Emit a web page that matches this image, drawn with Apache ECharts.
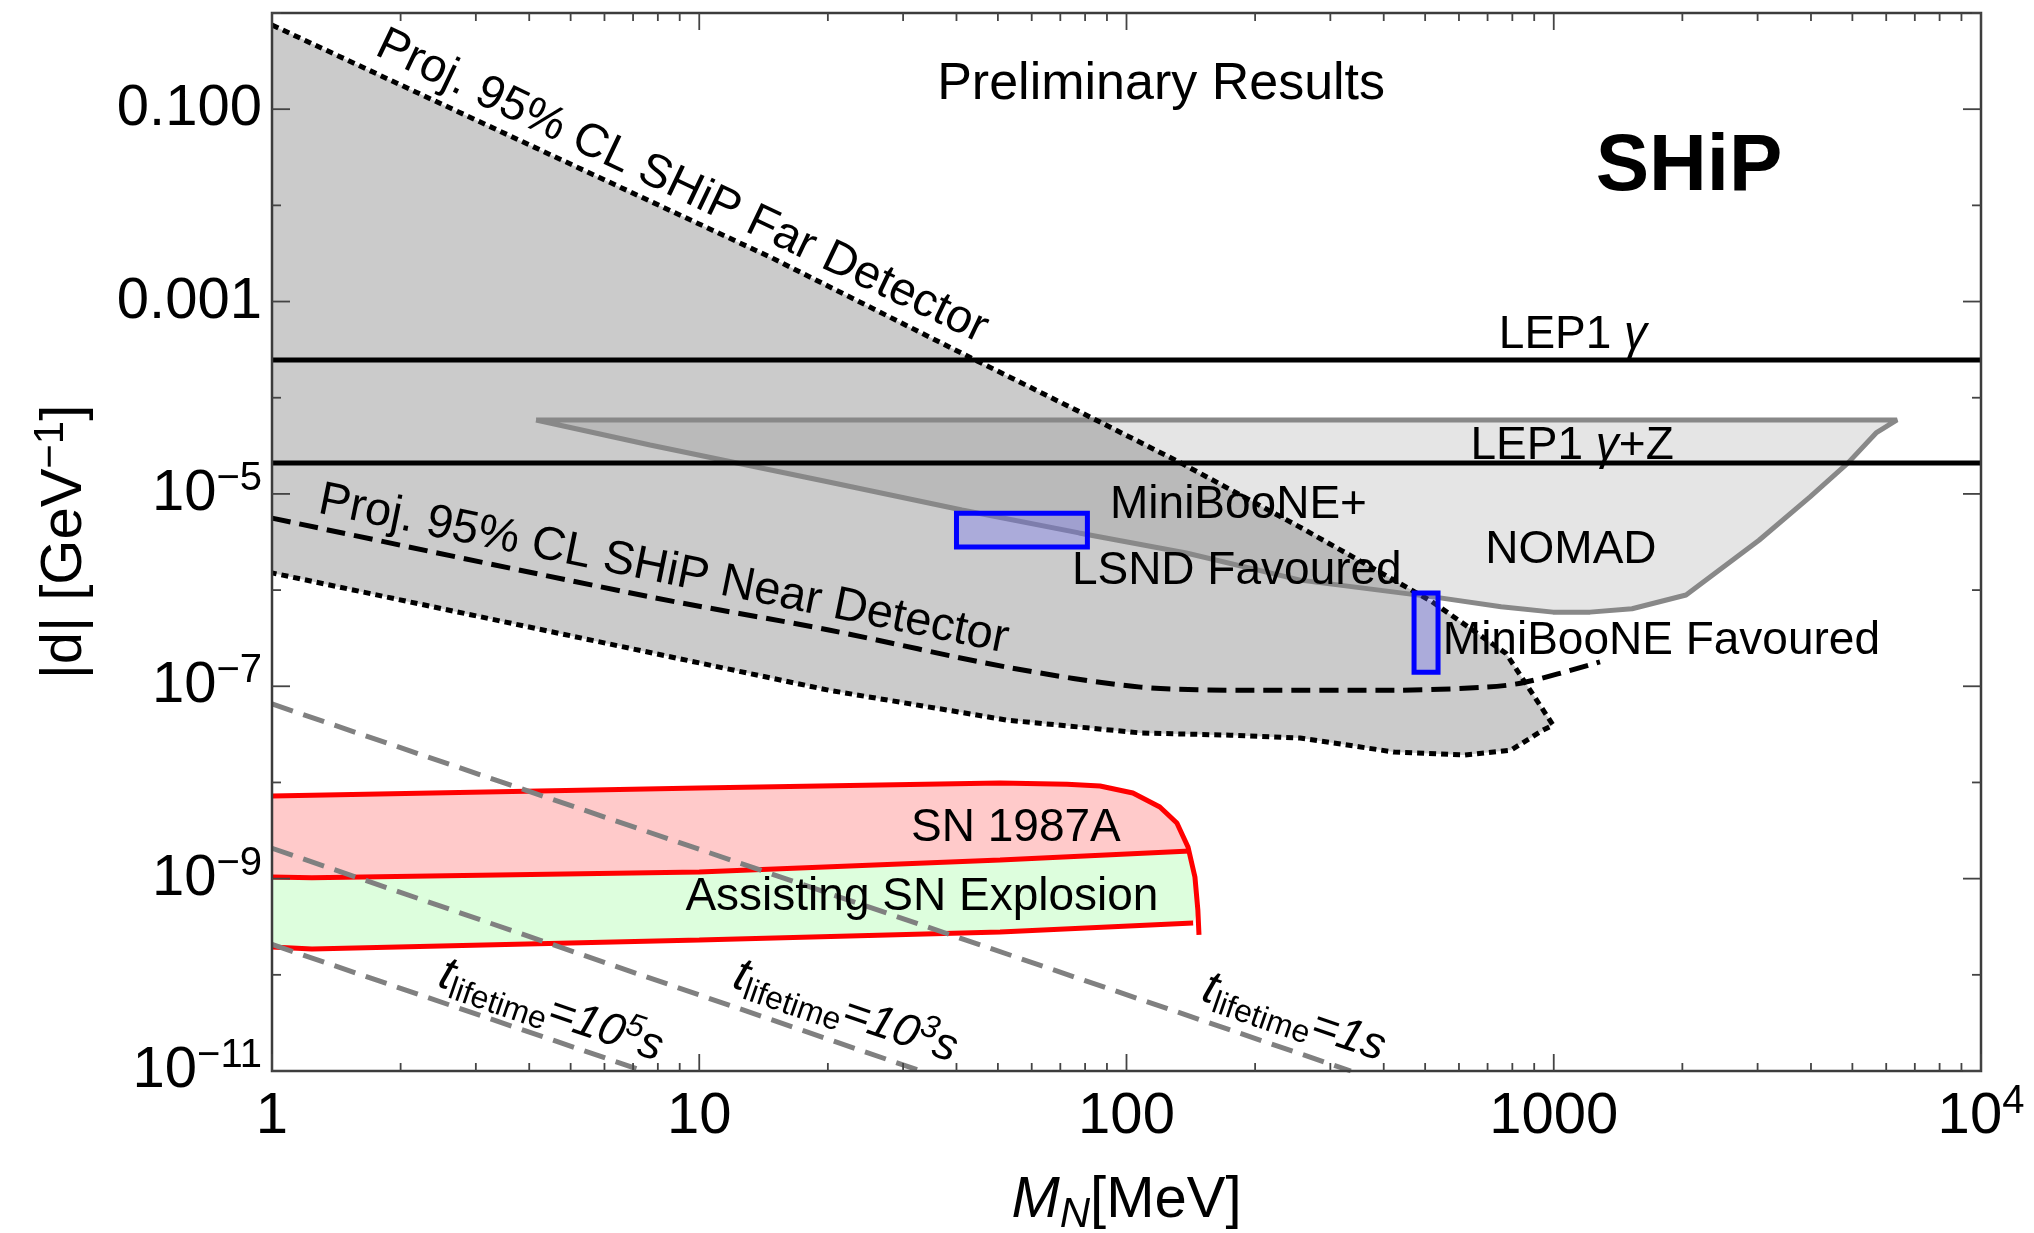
<!DOCTYPE html>
<html>
<head>
<meta charset="UTF-8">
<title>SHiP dipole portal</title>
<script src="https://cdn.jsdelivr.net/npm/echarts@6/dist/echarts.min.js"></script>
<style>
  html, body { margin: 0; padding: 0; background: #fff; }
  #main { width: 2034px; height: 1233px; }
</style>
</head>
<body>
<div id="main"></div>
<script>
var FONT = "'Liberation Sans', Arial, Helvetica, sans-serif";

// x = M_N [MeV], y = |d| [GeV^-1]
var farUpper = [[1, 0.75], [14.8, 2.84e-3], [43.3, 2.59e-4], [82.2, 6.3e-5], [134, 2.1e-5],
  [255, 4.5e-6], [516, 7.7e-7], [773, 2.2e-7], [996, 3.95e-8]];
var farLower = [[1, 1.51e-6], [10, 1.75e-7], [20.1, 9.1e-8], [52.5, 4.45e-8], [108, 3.27e-8],
  [175, 3.1e-8], [255, 2.9e-8], [423, 2.07e-8], [617, 1.93e-8], [794, 2.17e-8], [944, 3.5e-8], [996, 3.95e-8]];
var nearDet = [[1, 5.6e-6], [7.67, 8.5e-7], [20.1, 3.85e-7], [52.5, 1.58e-7], [108, 9.8e-8],
  [198, 9.1e-8], [423, 9.1e-8], [698, 9.8e-8], [857, 1.1e-7], [1283, 1.79e-7]];
// NOMAD: from the left tip along the lower edge up to the top-right corner
var nomad = [[4.15, 5.87e-5], [7.67, 3.23e-5], [20.1, 1.33e-5], [41.2, 6.8e-6], [77.4, 3.93e-6],
  [138, 2.43e-6], [255, 1.27e-6], [542, 8.3e-7], [753, 6.7e-7], [996, 5.9e-7], [1216, 5.9e-7],
  [1525, 6.4e-7], [2040, 8.9e-7], [3023, 3.3e-6], [3980, 9.3e-6], [4885, 2.1e-5], [5680, 4.3e-5], [6360, 5.87e-5]];
var lep1Gamma = 2.47e-4;
var lep1GammaZ = 2.1e-5;
var snTop = [[1, 7.23e-9], [10, 8.75e-9], [50.6, 9.86e-9], [72.6, 9.6e-9], [86.7, 9.2e-9], [103.5, 7.76e-9],
  [119.7, 5.55e-9], [131.2, 3.79e-9], [139.3, 2.13e-9], [144.6, 1.04e-9], [146.9, 4.72e-10], [147.8, 2.6e-10]];
var snMid = [[1, 1.04e-9], [1.24, 1.02e-9], [10, 1.17e-9], [50.6, 1.56e-9], [140.9, 1.94e-9]];
var snLow = [[1, 1.95e-10], [1.24, 1.85e-10], [10, 2.3e-10], [50.6, 2.79e-10], [143.2, 3.46e-10]];
// favoured boxes: [xLow, yLow, xHigh, yHigh]
var favBoxes = [[40, 2.8e-6, 81, 6.3e-6], [471, 1.4e-7, 536, 9.3e-7]];
var life1e5 = [[1, 2.07e-10], [7.4, 1e-11]];
var life1e3 = [[1, 2.07e-9], [33, 1e-11]];
var life1s = [[1, 6.55e-8], [335, 1e-11]];

var xTickLabels = ['1', '10', '100', '1000', '10{sup|4}'];
var yTickValues = [1e-1, 1e-3, 1e-5, 1e-7, 1e-9, 1e-11];
var yTickLabels = ['0.100', '0.001', '10{sup|−5}', '10{sup|−7}', '10{sup|−9}', '10{sup|−11}'];

var notes = [
  { text: 'Preliminary Results', at: [120.5, 0.196], size: 52, dy: 4 },
  { text: 'SHiP', at: [2073, 0.0256], size: 80, weight: 'bold', dy: 2 },
  { text: 'Proj. 95% CL SHiP Far Detector', at: [9.16, 0.0163], rot: -25.5, size: 47, dy: 2 },
  { text: 'Proj. 95% CL SHiP Near Detector', at: [8.27, 1.7e-6], rot: -11.5, size: 47, dy: 2 },
  { text: 'LEP1 {it|γ}', at: [1109, 5.06e-4] },
  { text: 'LEP1 {it|γ}+Z', at: [1104, 3.55e-5] },
  { text: 'NOMAD', at: [1097, 2.94e-6] },
  { text: 'MiniBooNE+', at: [91.5, 8.65e-6], align: 'left' },
  { text: 'LSND Favoured', at: [74.5, 1.78e-6], align: 'left' },
  { text: 'MiniBooNE Favoured', at: [550, 3.33e-7], align: 'left' },
  { text: 'SN 1987A', at: [55.1, 3.61e-9], dy: 3 },
  { text: 'Assisting SN Explosion', at: [33.2, 7.1e-10], dy: 4 },
  { text: '{t|t}{lo|lifetime}{m|=10}{hi|5}{m|s}', at: [4.5, 4.2e-11], rot: -19, dy: 0 },
  { text: '{t|t}{lo|lifetime}{m|=10}{hi|3}{m|s}', at: [22.0, 4.1e-11], rot: -19, dy: 0 },
  { text: '{t|t}{lo|lifetime}{m|=1s}', at: [246.6, 3.56e-11], rot: -19, dy: 0 }
];

var noteRich = {
  it: { fontStyle: 'italic', fontSize: 46, lineHeight: 56, fontFamily: FONT },
  t: { fontStyle: 'italic', fontSize: 48, lineHeight: 56, fontFamily: FONT },
  m: { fontStyle: 'italic', fontSize: 46, lineHeight: 56, fontFamily: FONT },
  lo: { fontSize: 32, lineHeight: 24, verticalAlign: 'bottom', fontFamily: FONT },
  hi: { fontStyle: 'italic', fontSize: 32, lineHeight: 24, verticalAlign: 'top', fontFamily: FONT }
};
var supRich = { fontSize: 40, lineHeight: 34, verticalAlign: 'top', fontFamily: FONT };

function polySeries(pts, fill, z) {
  return {
    type: 'custom', silent: true, z: z, clip: true,
    data: pts,
    renderItem: function (params, api) {
      if (params.dataIndex !== 0) return null;
      return {
        type: 'polygon',
        shape: { points: pts.map(function (p) { return api.coord(p); }) },
        style: { fill: fill }
      };
    }
  };
}

function lineSeries(pts, color, width, dash, z, smooth) {
  return {
    type: 'line', data: pts, symbol: 'none', showSymbol: false, silent: true, z: z,
    smooth: smooth || false,
    lineStyle: { color: color, width: width, type: dash || 'solid', cap: 'butt' }
  };
}

var farRegion = farUpper.concat(farLower.slice().reverse());
var snRegion = snTop.slice(0, 9).concat(snMid.slice().reverse());
var assistRegion = snMid.concat(snTop.slice(9, 11), snLow.slice().reverse());

// tick positions (decades + 2..9 subdivisions on x, every decade on y)
var xTicks = [];
[1, 10, 100, 1000].forEach(function (d) {
  for (var k = 1; k <= 9; k++) xTicks.push(k * d);
});
xTicks.push(10000);
var yTicks = [];
for (var e = -11; e <= 0; e++) yTicks.push(Math.pow(10, e));

var tickStyle = { stroke: '#444', lineWidth: 1.8 };

var myChart = echarts.init(document.getElementById('main'));

var option = {
  animation: false,
  backgroundColor: '#fff',
  grid: {
    left: 272, right: 53, top: 13, bottom: 162, containLabel: false, outerBoundsMode: 'none',
    show: true, borderColor: '#3c3c3c', borderWidth: 2.5, backgroundColor: 'transparent', z: 10
  },
  xAxis: {
    type: 'log', logBase: 10, min: 1, max: 10000, splitNumber: 4,
    axisLine: { show: false }, axisTick: { show: false }, splitLine: { show: false },
    axisLabel: {
      color: '#000', fontSize: 58, lineHeight: 70, fontFamily: FONT, margin: 11,
      formatter: function (v) { return xTickLabels[Math.round(Math.log10(v))]; },
      rich: { sup: supRich }
    },
    name: '{it|M}{sub|N}[MeV]', nameLocation: 'middle', nameGap: 95,
    nameTextStyle: {
      color: '#000', fontSize: 58, lineHeight: 70, fontFamily: FONT,
      rich: {
        it: { fontStyle: 'italic', fontSize: 58, lineHeight: 70, fontFamily: FONT },
        sub: { fontStyle: 'italic', fontSize: 42, lineHeight: 38, verticalAlign: 'bottom', fontFamily: FONT }
      }
    }
  },
  yAxis: {
    type: 'log', logBase: 10, min: 1e-11, max: 1,
    axisLine: { show: false }, axisTick: { show: false }, splitLine: { show: false },
    axisLabel: { show: false },
    name: '|d| [GeV{sup|−1}]', nameLocation: 'middle', nameGap: 172, nameRotate: 90,
    nameTextStyle: {
      color: '#000', fontSize: 58, lineHeight: 70, fontFamily: FONT,
      rich: { sup: { fontSize: 42, lineHeight: 14, verticalAlign: 'top', fontFamily: FONT } }
    }
  },
  series: [
    polySeries(farRegion, '#cbcbcb', 1),
    polySeries(nomad, 'rgba(110,110,110,0.18)', 2),
    polySeries(snRegion, '#ffcaca', 2),
    polySeries(assistRegion, '#ddfedd', 2),
    lineSeries(nomad.concat([nomad[0]]), '#888', 5, null, 3),
    lineSeries(snTop, '#ff0000', 5, null, 3),
    lineSeries(snMid, '#ff0000', 5, null, 3),
    lineSeries(snLow, '#ff0000', 5, null, 3),
    lineSeries([[1, lep1Gamma], [10000, lep1Gamma]], '#000', 5, null, 4),
    lineSeries([[1, lep1GammaZ], [10000, lep1GammaZ]], '#000', 5, null, 4),
    lineSeries(farUpper.concat(farLower.slice().reverse()), '#000', 5, [7, 5], 4),
    lineSeries(nearDet, '#000', 5, [19, 9], 4, 0.3),
    lineSeries(life1e5, '#808080', 5, [22, 11], 5),
    lineSeries(life1e3, '#808080', 5, [22, 11], 5),
    lineSeries(life1s, '#808080', 5, [22, 11], 5),
    {
      type: 'custom', silent: true, z: 5,
      data: favBoxes,
      encode: { x: [0, 2], y: [1, 3] },
      renderItem: function (params, api) {
        var a = api.coord([api.value(0), api.value(1)]);
        var b = api.coord([api.value(2), api.value(3)]);
        return {
          type: 'rect',
          shape: { x: Math.min(a[0], b[0]), y: Math.min(a[1], b[1]), width: Math.abs(b[0] - a[0]), height: Math.abs(b[1] - a[1]) },
          style: { fill: 'rgba(100,100,255,0.3)', stroke: '#0000ff', lineWidth: 5 }
        };
      }
    },
    {
      // x ticks, bottom and top frame, pointing inward
      type: 'custom', silent: true, z: 11, clip: false,
      data: xTicks.map(function (v) { return [v, 1e-11]; }),
      renderItem: function (params, api) {
        var v = api.value(0);
        var major = Math.abs(Math.log10(v) - Math.round(Math.log10(v))) < 1e-9;
        var len = major ? 17 : 8;
        var b = api.coord([v, 1e-11]);
        var t = api.coord([v, 1]);
        return {
          type: 'group', children: [
            { type: 'line', shape: { x1: b[0], y1: b[1], x2: b[0], y2: b[1] - len }, style: tickStyle },
            { type: 'line', shape: { x1: t[0], y1: t[1], x2: t[0], y2: t[1] + len }, style: tickStyle }
          ]
        };
      }
    },
    {
      // y ticks, left and right frame
      type: 'custom', silent: true, z: 11, clip: false,
      data: yTicks.map(function (v) { return [1, v]; }),
      renderItem: function (params, api) {
        var v = api.value(1);
        var major = Math.abs(Math.round(Math.log10(v))) % 2 === 1;
        var len = major ? 18 : 9;
        var l = api.coord([1, v]);
        var r = api.coord([10000, v]);
        return {
          type: 'group', children: [
            { type: 'line', shape: { x1: l[0], y1: l[1], x2: l[0] + len, y2: l[1] }, style: tickStyle },
            { type: 'line', shape: { x1: r[0], y1: r[1], x2: r[0] - len, y2: r[1] }, style: tickStyle }
          ]
        };
      }
    },
    {
      // y tick labels
      type: 'custom', silent: true, z: 11, clip: false,
      data: yTickValues.map(function (v) { return [1, v]; }),
      renderItem: function (params, api) {
        var p = api.coord([1, api.value(1)]);
        return {
          type: 'text', x: p[0] - 10, y: p[1],
          style: {
            text: yTickLabels[params.dataIndex], fill: '#000', fontSize: 58, lineHeight: 70,
            fontFamily: FONT, align: 'right', verticalAlign: 'middle', rich: { sup: supRich }
          }
        };
      }
    },
    {
      // annotations
      type: 'custom', silent: true, z: 12, clip: false,
      data: notes.map(function (n) { return n.at; }),
      renderItem: function (params, api) {
        var n = notes[params.dataIndex];
        var p = api.coord([api.value(0), api.value(1)]);
        return {
          type: 'text', x: p[0], y: p[1], rotation: (n.rot || 0) * Math.PI / 180,
          style: {
            text: n.text, x: 0, y: n.dy == null ? 5 : n.dy,
            fill: '#000', fontSize: n.size || 46, lineHeight: 56,
            fontWeight: n.weight || 'normal', fontFamily: FONT,
            align: n.align || 'center', verticalAlign: 'middle', rich: noteRich
          }
        };
      }
    }
  ]
};

myChart.setOption(option);
</script>
</body>
</html>
